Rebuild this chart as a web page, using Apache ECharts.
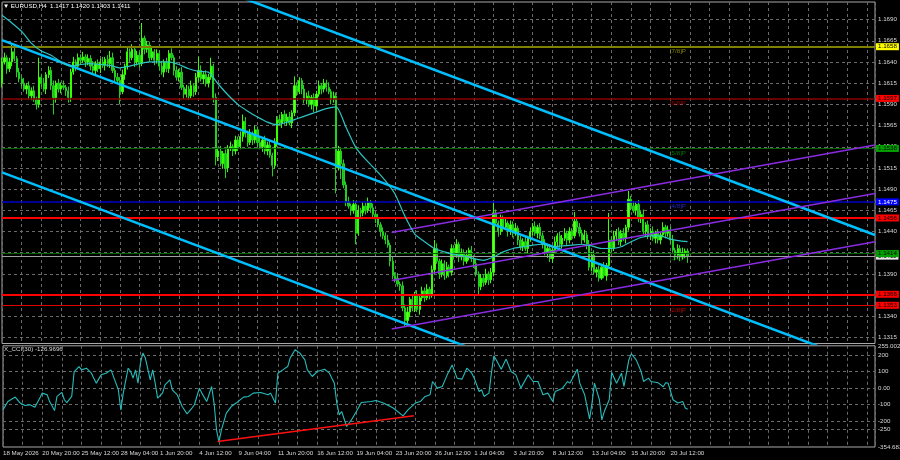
<!DOCTYPE html>
<html><head><meta charset="utf-8">
<script src="https://cdn.jsdelivr.net/npm/echarts@6/dist/echarts.min.js"></script>
<style>html,body{margin:0;padding:0;background:#000}#c{width:900px;height:460px}</style>
</head><body><div id="c"></div>
<script>
// ---------- DATA ----------
const symbolTitle = 'EURUSD,H4';
const lastQuote = [1.1417, 1.1420, 1.1403, 1.1411];
const cciName = 'X_CCI(30)';
const cciLast = -126.9696;
const tickLabels = ['18 May 2026','20 May 20:00','25 May 12:00','28 May 04:00','1 Jun 20:00','4 Jun 12:00','9 Jun 04:00','11 Jun 20:00','16 Jun 12:00','19 Jun 04:00','23 Jun 20:00','26 Jun 12:00','1 Jul 04:00','3 Jul 20:00','8 Jul 12:00','13 Jul 04:00','15 Jul 20:00','20 Jul 12:00'];

const opens = [
1.1615,1.1640,1.1645,1.1632,1.1640,1.1652,1.1644,1.1628,1.1620,1.1615,
1.1608,1.1612,1.1600,1.1606,1.1596,1.1590,1.1622,1.1615,1.1608,1.1625,
1.1630,1.1612,1.1598,1.1615,1.1608,1.1612,1.1610,1.1606,1.1598,1.1628,
1.1640,1.1635,1.1645,1.1642,1.1646,1.1640,1.1644,1.1635,1.1630,1.1638,
1.1632,1.1640,1.1636,1.1643,1.1638,1.1645,1.1630,1.1622,1.1618,1.1605,
1.1625,1.1635,1.1652,1.1645,1.1655,1.1640,1.1648,1.1638,1.1668,1.1655,
1.1660,1.1645,1.1652,1.1642,1.1650,1.1635,1.1628,1.1640,1.1632,1.1650,
1.1645,1.1630,1.1622,1.1628,1.1610,1.1602,1.1608,1.1600,1.1612,1.1605,
1.1622,1.1630,1.1620,1.1625,1.1615,1.1622,1.1635,1.1598,1.1528,1.1535,
1.1520,1.1532,1.1515,1.1538,1.1540,1.1535,1.1548,1.1540,1.1552,1.1570,
1.1555,1.1545,1.1555,1.1548,1.1560,1.1545,1.1540,1.1548,1.1535,1.1542,
1.1530,1.1518,1.1545,1.1572,1.1568,1.1578,1.1570,1.1575,1.1568,1.1580,
1.1612,1.1605,1.1618,1.1608,1.1595,1.1600,1.1590,1.1598,1.1588,1.1602,
1.1612,1.1608,1.1615,1.1610,1.1605,1.1596,1.1600,1.1515,1.1535,1.1520,
1.1495,1.1475,1.1470,1.1465,1.1472,1.1438,1.1465,1.1462,1.1470,1.1465,
1.1474,1.1468,1.1460,1.1455,1.1448,1.1440,1.1435,1.1430,1.1424,1.1405,
1.1388,1.1385,1.1378,1.1376,1.1350,1.1335,1.1345,1.1360,1.1350,1.1365,
1.1348,1.1362,1.1370,1.1362,1.1372,1.1366,1.1395,1.1420,1.1405,1.1390,
1.1402,1.1388,1.1398,1.1392,1.1420,1.1412,1.1425,1.1410,1.1415,1.1405,
1.1412,1.1418,1.1408,1.1402,1.1390,1.1375,1.1385,1.1380,1.1390,1.1383,
1.1392,1.1462,1.1450,1.1440,1.1455,1.1445,1.1450,1.1440,1.1448,1.1438,
1.1444,1.1430,1.1422,1.1428,1.1420,1.1432,1.1440,1.1446,1.1438,1.1445,
1.1435,1.1425,1.1415,1.1420,1.1408,1.1418,1.1428,1.1435,1.1425,1.1432,
1.1438,1.1430,1.1440,1.1435,1.1452,1.1445,1.1438,1.1430,1.1436,1.1425,
1.1398,1.1412,1.1392,1.1395,1.1385,1.1398,1.1388,1.1400,1.1430,1.1420,
1.1435,1.1440,1.1428,1.1438,1.1432,1.1445,1.1478,1.1470,1.1465,1.1472,
1.1455,1.1460,1.1440,1.1448,1.1435,1.1440,1.1432,1.1438,1.1430,1.1436,
1.1445,1.1438,1.1442,1.1430,1.1418,1.1412,1.1420,1.1410,1.1415,1.1417];

const highs = [
1.1645,1.1651,1.1648,1.1645,1.1660,1.1658,1.1647,1.1633,1.1624,1.1621,
1.1615,1.1617,1.1610,1.1612,1.1599,1.1645,1.1626,1.1621,1.1628,1.1635,
1.1634,1.1618,1.1618,1.1620,1.1616,1.1618,1.1613,1.1611,1.1632,1.1646,
1.1643,1.1650,1.1649,1.1652,1.1649,1.1649,1.1648,1.1641,1.1641,1.1643,
1.1644,1.1646,1.1646,1.1648,1.1653,1.1651,1.1633,1.1627,1.1622,1.1631,
1.1638,1.1657,1.1656,1.1661,1.1658,1.1653,1.1652,1.1686,1.1671,1.1665,
1.1664,1.1658,1.1655,1.1655,1.1654,1.1641,1.1643,1.1645,1.1654,1.1656,
1.1648,1.1635,1.1632,1.1634,1.1613,1.1613,1.1612,1.1618,1.1615,1.1627,
1.1646,1.1636,1.1628,1.1630,1.1626,1.1645,1.1638,1.1603,1.1539,1.1541,
1.1535,1.1537,1.1542,1.1546,1.1543,1.1553,1.1552,1.1558,1.1578,1.1575,
1.1559,1.1561,1.1558,1.1565,1.1564,1.1551,1.1551,1.1553,1.1546,1.1548,
1.1533,1.1550,1.1576,1.1578,1.1581,1.1583,1.1579,1.1581,1.1583,1.1623,
1.1616,1.1622,1.1621,1.1613,1.1604,1.1606,1.1601,1.1603,1.1606,1.1618,
1.1615,1.1620,1.1619,1.1616,1.1608,1.1605,1.1604,1.1541,1.1538,1.1525,
1.1499,1.1481,1.1473,1.1477,1.1476,1.1471,1.1468,1.1475,1.1474,1.1480,
1.1477,1.1473,1.1464,1.1461,1.1451,1.1445,1.1439,1.1436,1.1427,1.1410,
1.1392,1.1391,1.1381,1.1381,1.1354,1.1351,1.1363,1.1365,1.1369,1.1371,
1.1365,1.1375,1.1374,1.1378,1.1375,1.1400,1.1430,1.1426,1.1408,1.1407,
1.1406,1.1404,1.1401,1.1425,1.1424,1.1431,1.1428,1.1420,1.1419,1.1418,
1.1421,1.1423,1.1412,1.1408,1.1393,1.1390,1.1389,1.1396,1.1393,1.1397,
1.1474,1.1466,1.1453,1.1460,1.1459,1.1456,1.1453,1.1453,1.1452,1.1450,
1.1447,1.1435,1.1432,1.1434,1.1435,1.1445,1.1450,1.1452,1.1448,1.1450,
1.1439,1.1431,1.1423,1.1425,1.1422,1.1434,1.1438,1.1440,1.1436,1.1444,
1.1441,1.1445,1.1444,1.1463,1.1455,1.1450,1.1442,1.1442,1.1439,1.1430,
1.1416,1.1418,1.1398,1.1400,1.1402,1.1404,1.1403,1.1462,1.1434,1.1441,
1.1443,1.1445,1.1442,1.1444,1.1448,1.1488,1.1482,1.1476,1.1475,1.1477,
1.1464,1.1466,1.1451,1.1453,1.1444,1.1446,1.1441,1.1443,1.1440,1.1451,
1.1448,1.1447,1.1446,1.1436,1.1421,1.1425,1.1424,1.1421,1.1420,1.1420];

const lows = [
1.1610,1.1637,1.1626,1.1628,1.1635,1.1641,1.1622,1.1616,1.1610,1.1605,
1.1602,1.1596,1.1595,1.1593,1.1584,1.1586,1.1610,1.1605,1.1602,1.1621,
1.1607,1.1578,1.1592,1.1604,1.1603,1.1607,1.1600,1.1592,1.1593,1.1625,
1.1629,1.1631,1.1637,1.1639,1.1634,1.1636,1.1630,1.1627,1.1624,1.1628,
1.1627,1.1633,1.1630,1.1634,1.1633,1.1627,1.1616,1.1614,1.1590,1.1602,
1.1619,1.1631,1.1640,1.1642,1.1634,1.1636,1.1633,1.1635,1.1649,1.1651,
1.1640,1.1642,1.1636,1.1638,1.1630,1.1625,1.1622,1.1628,1.1627,1.1642,
1.1624,1.1618,1.1617,1.1607,1.1596,1.1598,1.1595,1.1597,1.1599,1.1601,
1.1617,1.1617,1.1614,1.1611,1.1610,1.1619,1.1592,1.1518,1.1523,1.1517,
1.1514,1.1503,1.1510,1.1535,1.1529,1.1531,1.1535,1.1537,1.1546,1.1551,
1.1540,1.1542,1.1542,1.1544,1.1540,1.1537,1.1534,1.1531,1.1530,1.1527,
1.1505,1.1514,1.1540,1.1565,1.1562,1.1566,1.1565,1.1565,1.1562,1.1576,
1.1600,1.1602,1.1602,1.1591,1.1590,1.1587,1.1584,1.1581,1.1583,1.1599,
1.1602,1.1604,1.1605,1.1602,1.1590,1.1592,1.1485,1.1512,1.1502,1.1491,
1.1470,1.1467,1.1459,1.1461,1.1425,1.1435,1.1456,1.1458,1.1460,1.1462,
1.1462,1.1456,1.1450,1.1445,1.1434,1.1431,1.1425,1.1421,1.1399,1.1384,
1.1380,1.1375,1.1370,1.1346,1.1328,1.1332,1.1339,1.1346,1.1345,1.1345,
1.1342,1.1358,1.1357,1.1359,1.1360,1.1362,1.1390,1.1402,1.1384,1.1386,
1.1383,1.1385,1.1386,1.1388,1.1407,1.1409,1.1404,1.1406,1.1400,1.1402,
1.1406,1.1404,1.1397,1.1387,1.1365,1.1371,1.1375,1.1377,1.1377,1.1379,
1.1387,1.1447,1.1434,1.1436,1.1440,1.1442,1.1434,1.1436,1.1433,1.1435,
1.1424,1.1418,1.1417,1.1417,1.1414,1.1428,1.1435,1.1435,1.1432,1.1431,
1.1420,1.1412,1.1409,1.1404,1.1403,1.1415,1.1422,1.1421,1.1420,1.1429,
1.1424,1.1426,1.1430,1.1432,1.1439,1.1434,1.1425,1.1427,1.1419,1.1394,
1.1393,1.1389,1.1386,1.1381,1.1383,1.1385,1.1382,1.1396,1.1415,1.1417,
1.1429,1.1424,1.1423,1.1429,1.1426,1.1441,1.1465,1.1462,1.1459,1.1451,
1.1450,1.1437,1.1434,1.1431,1.1430,1.1429,1.1426,1.1426,1.1425,1.1433,
1.1432,1.1434,1.1425,1.1415,1.1406,1.1408,1.1405,1.1407,1.1409,1.1403];

const closes = [
1.1640,1.1645,1.1632,1.1640,1.1652,1.1644,1.1628,1.1620,1.1615,1.1608,
1.1612,1.1600,1.1606,1.1596,1.1590,1.1622,1.1615,1.1608,1.1625,1.1630,
1.1612,1.1598,1.1615,1.1608,1.1612,1.1610,1.1606,1.1598,1.1628,1.1640,
1.1635,1.1645,1.1642,1.1646,1.1640,1.1644,1.1635,1.1630,1.1638,1.1632,
1.1640,1.1636,1.1643,1.1638,1.1645,1.1630,1.1622,1.1618,1.1605,1.1625,
1.1635,1.1652,1.1645,1.1655,1.1640,1.1648,1.1638,1.1668,1.1655,1.1660,
1.1645,1.1652,1.1642,1.1650,1.1635,1.1628,1.1640,1.1632,1.1650,1.1645,
1.1630,1.1622,1.1628,1.1610,1.1602,1.1608,1.1600,1.1612,1.1605,1.1622,
1.1630,1.1620,1.1625,1.1615,1.1622,1.1635,1.1598,1.1528,1.1535,1.1520,
1.1532,1.1515,1.1538,1.1540,1.1535,1.1548,1.1540,1.1552,1.1570,1.1555,
1.1545,1.1555,1.1548,1.1560,1.1545,1.1540,1.1548,1.1535,1.1542,1.1530,
1.1518,1.1545,1.1572,1.1568,1.1578,1.1570,1.1575,1.1568,1.1580,1.1612,
1.1605,1.1618,1.1608,1.1595,1.1600,1.1590,1.1598,1.1588,1.1602,1.1612,
1.1608,1.1615,1.1610,1.1605,1.1596,1.1600,1.1515,1.1535,1.1520,1.1495,
1.1475,1.1470,1.1465,1.1472,1.1438,1.1465,1.1462,1.1470,1.1465,1.1474,
1.1468,1.1460,1.1455,1.1448,1.1440,1.1435,1.1430,1.1424,1.1405,1.1388,
1.1385,1.1378,1.1376,1.1350,1.1335,1.1345,1.1360,1.1350,1.1365,1.1348,
1.1362,1.1370,1.1362,1.1372,1.1366,1.1395,1.1420,1.1405,1.1390,1.1402,
1.1388,1.1398,1.1392,1.1420,1.1412,1.1425,1.1410,1.1415,1.1405,1.1412,
1.1418,1.1408,1.1402,1.1390,1.1375,1.1385,1.1380,1.1390,1.1383,1.1392,
1.1462,1.1450,1.1440,1.1455,1.1445,1.1450,1.1440,1.1448,1.1438,1.1444,
1.1430,1.1422,1.1428,1.1420,1.1432,1.1440,1.1446,1.1438,1.1445,1.1435,
1.1425,1.1415,1.1420,1.1408,1.1418,1.1428,1.1435,1.1425,1.1432,1.1438,
1.1430,1.1440,1.1435,1.1452,1.1445,1.1438,1.1430,1.1436,1.1425,1.1398,
1.1412,1.1392,1.1395,1.1385,1.1398,1.1388,1.1400,1.1430,1.1420,1.1435,
1.1440,1.1428,1.1438,1.1432,1.1445,1.1478,1.1470,1.1465,1.1472,1.1455,
1.1460,1.1440,1.1448,1.1435,1.1440,1.1432,1.1438,1.1430,1.1436,1.1445,
1.1438,1.1442,1.1430,1.1418,1.1412,1.1420,1.1410,1.1415,1.1417,1.1411];

// moving average, read every 4th bar (last value = last bar)
const maValues = [
1.1695,1.1686,1.1676,1.1662,1.1653,1.1648,1.1640,1.1635,1.1637,1.1638,
1.1637,1.1636,1.1633,1.1635,1.1638,1.1640,1.1640,1.1640,1.1637,1.1632,
1.1629,1.1628,1.1614,1.1601,1.1590,1.1582,1.1575,1.1569,1.1566,1.1569,
1.1573,1.1577,1.1581,1.1585,1.1587,1.1563,1.1539,1.1525,1.1513,1.1500,
1.1484,1.1458,1.1437,1.1428,1.1420,1.1416,1.1413,1.1411,1.1408,1.1406,
1.1410,1.1416,1.1420,1.1422,1.1424,1.1425,1.1422,1.1423,1.1424,1.1425,
1.1423,1.1420,1.1420,1.1422,1.1428,1.1433,1.1435,1.1435,1.1431,1.1429,
1.1428];

const cciBars = [0,2,5,7,9,11,13,15,16,18,19,21,22,24,25,26,28,29,31,32,34,36,38,40,42,44,46,47,48,49,51,52,53,54,55,56,57,58,60,61,62,63,65,66,68,69,71,73,75,77,78,80,81,83,85,86,87,88,89,91,93,95,98,100,102,105,108,109,111,112,114,116,117,119,121,123,124,126,128,131,133,135,136,137,138,140,142,144,146,150,152,155,159,163,165,168,170,172,174,175,177,179,181,182,183,185,187,189,191,192,194,195,196,198,199,200,201,203,205,207,209,211,214,216,218,220,222,224,225,228,230,231,234,235,237,239,240,241,243,244,245,247,248,250,252,253,255,256,258,260,261,263,264,267,269,270,271,273,275,277,278,279];
const cciValues = [-131,-81,-54,-90,-105,-100,-115,-60,-30,-40,-81,-135,-50,-26,-70,-87,-50,100,130,110,120,90,30,80,90,110,30,-10,-131,-30,120,100,60,110,30,150,211,181,50,110,30,-60,-30,20,50,-10,-40,-111,-155,-120,-100,0,-30,-81,10,-90,-251,-325,-251,-151,-111,-90,-54,-50,-30,-26,-40,-30,-90,90,110,130,181,231,211,170,110,70,100,114,90,30,-90,-161,-141,-231,-191,-141,-87,-81,-75,-90,-120,-167,-131,-90,-81,-50,-40,40,0,10,80,110,140,60,54,120,90,60,-20,-10,-50,-30,90,195,170,114,175,100,80,0,80,40,40,-40,-30,-81,-20,0,40,30,114,30,-40,-185,-90,30,-70,-191,-141,-70,94,30,90,10,170,207,170,100,40,60,40,32,8,32,30,-70,-90,-81,-120,-127];

const priceTicks = [1.1690,1.1665,1.1640,1.1615,1.1590,1.1565,1.1540,1.1515,1.1490,1.1465,1.1440,1.1415,1.1390,1.1365,1.1340,1.1315];
const cciTicks = [200,100,0,-100,-200,-250];
const cciTickText = ['200','100','0.00','-100','-200','-250'];
const cciRange = [-354.683, 255.0021];
const cciRangeText = ['-354.683','255.0021'];

const levelPrices = [1.1658,1.1597,1.1538,1.1475,1.1456,1.1414,1.1366,1.1353];
const bidPrice = 1.1411;
const murreyNames = ['[7/8]P','[6/8]P','[5/8]P','[4/8]P','[3/8]P','[2/8]P'];
const murreyPrices = [1.1658,1.1597,1.1538,1.1475,1.1414,1.1353];
const murreyTagBar = 272;

// trend channels: [bar, price] end points
const cyanBars = [0, 355.3];
const cyanTop = [1.18219, 1.14359];
const cyanMid = [1.16658, 1.12797];
const cyanBot = [1.15098, 1.11236];
const purpleBars = [158.6, 355.3];
const purpleTop = [1.14388, 1.15421];
const purpleMid = [1.13823, 1.14850];
const purpleBot = [1.13251, 1.14280];
const cciTrendBars = [87.4, 167.4];
const cciTrendValues = [-321.7, -166.9];

// visible window
const xMax = 355.3;
const priceRange = [1.130796, 1.171072];

// ---------- STYLES ----------
const FONT = "'Liberation Sans',Arial,sans-serif";
const FS = 6.2;
const txt = {color:'#d8d8d8', fontSize:FS, fontFamily:FONT};
const gridLine = {color:'#6a6a6a', width:1, type:[3,3]};
const levelStyles = [
  {line:'#808000', w:2,   box:'#ffff00', t:'#000'},
  {line:'#8b0000', w:1.5, box:'#ff0000', t:'#000'},
  {line:'#006400', w:1,   box:'#00a000', t:'#000'},
  {line:'#0000cd', w:1.5, box:'#0000ff', t:'#fff'},
  {line:'#ff0000', w:2,   box:'#ff0000', t:'#000'},
  {line:'#006400', w:1,   box:'#00a000', t:'#000'},
  {line:'#ff0000', w:2,   box:'#ff0000', t:'#000'},
  {line:'#e00000', w:1,   box:'#ff0000', t:'#000'}
];
const murreyColors = ['#a0a000','#b80000','#009000','#3030f0','#009000','#e00000'];

// ---------- BUILD ----------
const n = closes.length;
const candleData = closes.map((c,i)=>[i, opens[i], c, lows[i], highs[i]]);
const maData = maValues.map((v,k)=>[k < maValues.length-1 ? k*4 : n-1, v]);
const cciData = cciBars.map((b,k)=>[b, cciValues[k]]);
const seg = (bars, vals)=>[[bars[0], vals[0]],[bars[1], vals[1]]];

const levelMarks = [{yAxis:bidPrice, name:bidPrice.toFixed(4),
   lineStyle:{color:'#a0a0a0', width:1, type:'solid'},
   label:{backgroundColor:'#e8e8e8', color:'#000'}}]
  .concat(levelPrices.map((p,k)=>({yAxis:p, name:p.toFixed(4),
   lineStyle:{color:levelStyles[k].line, width:levelStyles[k].w, type:'solid'},
   label:{backgroundColor:levelStyles[k].box, color:levelStyles[k].t}})));

const trend = (data, color, width)=>({type:'line', xAxisIndex:0, yAxisIndex:0, data, symbol:'none', silent:true, z:5,
  lineStyle:{color, width}, clip:true});

const option = {
  backgroundColor:'#000',
  animation:false,
  title:[
    {text:'\u25BC ' + symbolTitle + '  ' + lastQuote.map(v=>v.toFixed(4)).join(' '), left:3, top:3, padding:0,
     textStyle:{color:'#ffffff', fontSize:FS, fontWeight:'normal', fontFamily:FONT}},
    {text:cciName + ' ' + cciLast.toFixed(4), left:4, top:346, padding:0,
     textStyle:{color:'#d8d8d8', fontSize:FS, fontWeight:'normal', fontFamily:FONT}}
  ],
  grid:[
    {left:2, right:25, top:2, height:341.5, show:true, borderColor:'#a8a8a8', borderWidth:1},
    {left:2, right:25, top:345.8, height:101.2, show:true, borderColor:'#a8a8a8', borderWidth:1}
  ],
  xAxis:[
    {type:'value', gridIndex:0, min:0, max:xMax, interval:8, axisLine:{show:false}, axisTick:{show:false},
     axisLabel:{show:false}, splitLine:{show:true, lineStyle:gridLine}},
    {type:'value', gridIndex:1, min:0, max:xMax, interval:8, axisLine:{show:false}, axisTick:{show:false},
     axisLabel:{show:true, align:'left', margin:3, ...txt,
       formatter:v=> (v % 16 === 0 && v/16 < tickLabels.length) ? tickLabels[v/16] : ''},
     splitLine:{show:true, lineStyle:gridLine}}
  ],
  yAxis:[
    {type:'value', gridIndex:0, min:priceRange[0], max:priceRange[1], position:'right', show:false},
    {type:'value', gridIndex:1, min:cciRange[0], max:cciRange[1], position:'right', show:false}
  ],
  series:[
    // price grid lines + axis labels
    {type:'line', xAxisIndex:0, yAxisIndex:0, data:[], silent:true,
     markLine:{z:1, precision:6, silent:true, symbol:['none','none'], animation:false, lineStyle:gridLine,
       label:{show:true, position:'end', distance:3, formatter:'{b}', ...txt},
       data:priceTicks.map(v=>({yAxis:v, name:v.toFixed(4)}))}},
    // cci grid lines + labels
    {type:'line', xAxisIndex:1, yAxisIndex:1, data:[], silent:true,
     markLine:{z:1, precision:6, silent:true, symbol:['none','none'], animation:false, lineStyle:gridLine,
       label:{show:true, position:'end', distance:3, formatter:'{b}', ...txt},
       data:cciTicks.map((v,k)=>({yAxis:v, name:cciTickText[k]}))
         .concat([
           {yAxis:cciRange[1], name:cciRangeText[1], lineStyle:{color:'rgba(0,0,0,0)'}, label:{padding:[5,0,0,0]}},
           {yAxis:cciRange[0], name:cciRangeText[0], lineStyle:{color:'rgba(0,0,0,0)'}, label:{padding:[0,0,7,0]}}
         ])}},
    // murrey tags
    {type:'scatter', xAxisIndex:0, yAxisIndex:0, silent:true, z:2, symbolSize:1,
     itemStyle:{color:'rgba(0,0,0,0)'},
     data:murreyPrices.map((p,k)=>({value:[murreyTagBar,p], name:murreyNames[k], label:{color:murreyColors[k]}})),
     label:{show:true, position:[0,2], formatter:'{b}', fontSize:FS, fontFamily:FONT}},
    // candles
    {type:'candlestick', xAxisIndex:0, yAxisIndex:0, data:candleData, barWidth:1.8, z:3, silent:true,
     itemStyle:{color:'#66ff33', color0:'#22b822', borderColor:'#33ff00', borderColor0:'#22d022', borderWidth:1}},
    // level lines
    {type:'line', xAxisIndex:0, yAxisIndex:0, data:[], silent:true,
     markLine:{z:4, precision:6, silent:true, symbol:['none','none'], animation:false,
       label:{show:true, position:'end', distance:1, formatter:'{b}', fontSize:FS, fontFamily:FONT, padding:[1,2,0,2]},
       data:levelMarks}},
    trend(seg(cyanBars,cyanTop), '#00bfff', 2.5),
    trend(seg(cyanBars,cyanMid), '#00bfff', 2.5),
    trend(seg(cyanBars,cyanBot), '#00bfff', 2.5),
    trend(seg(purpleBars,purpleTop), '#8a2be2', 1.5),
    trend(seg(purpleBars,purpleMid), '#8a2be2', 1.5),
    trend(seg(purpleBars,purpleBot), '#8a2be2', 1.5),
    {type:'line', xAxisIndex:0, yAxisIndex:0, data:maData, symbol:'none', smooth:0.2, silent:true, z:6,
     lineStyle:{color:'#2cc4c4', width:1.2}},
    {type:'line', xAxisIndex:1, yAxisIndex:1, data:cciData, symbol:'none', silent:true, z:5,
     lineStyle:{color:'#26bcbc', width:1.1}},
    {type:'line', xAxisIndex:1, yAxisIndex:1, data:seg(cciTrendBars,cciTrendValues), symbol:'none', silent:true, z:6,
     lineStyle:{color:'#ff1010', width:1.5}}
  ]
};
const chart = echarts.init(document.getElementById('c'), null, {renderer:'canvas'});
chart.setOption(option);
</script>
</body></html>
